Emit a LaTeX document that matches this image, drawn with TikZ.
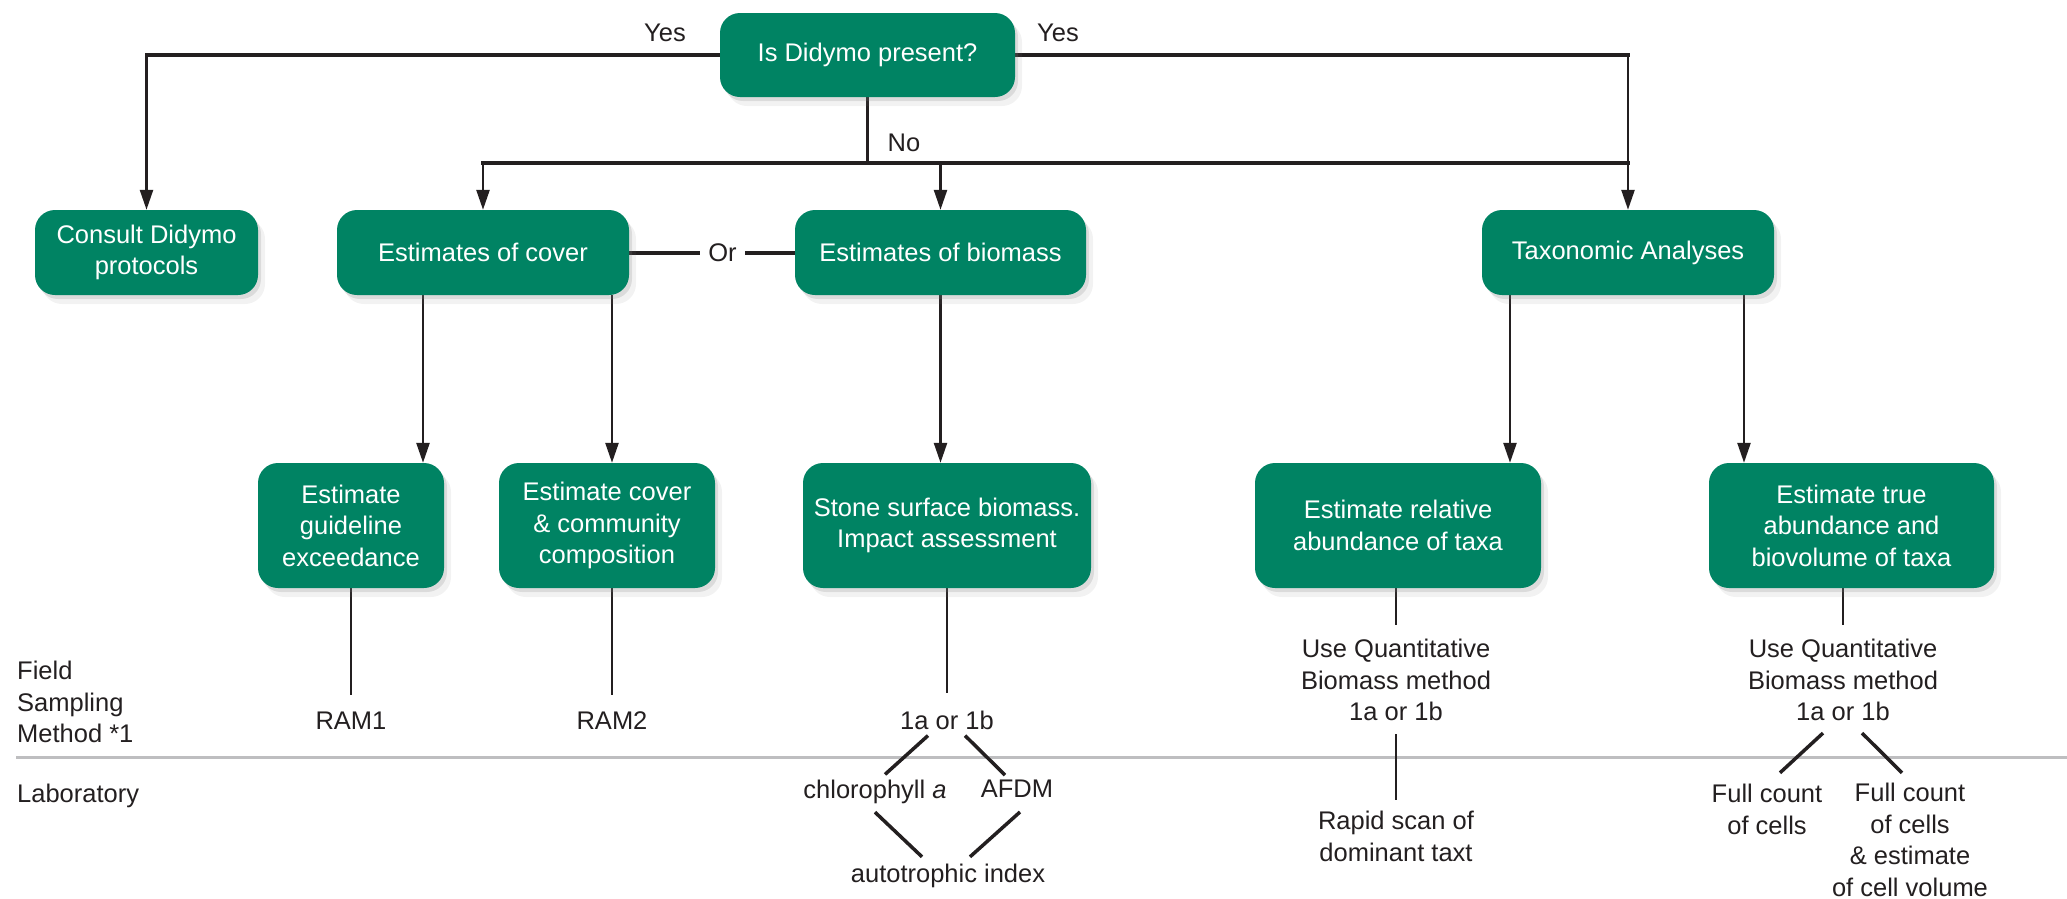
\documentclass[tikz,border=0pt]{standalone}
\usepackage{fontspec}
\setmainfont{Liberation Sans}
\usetikzlibrary{positioning,arrows.meta,shadows,backgrounds}

\definecolor{didymo}{RGB}{0,131,99}
\definecolor{ink}{RGB}{35,31,32}
\definecolor{rulegray}{RGB}{190,190,192}

\begin{document}
\begin{tikzpicture}[x = 1pt, y = -1pt,
  every node/.style = {font=\fontsize{25.5}{31.5}\selectfont, text=ink, inner sep=3pt},
  box/.style = {rectangle, rounded corners=20pt, fill=didymo, text=white, align=center, inner sep=0pt,
    drop shadow={shadow xshift=3pt, shadow yshift=-4pt, opacity=0.2},
    drop shadow={shadow xshift=7pt, shadow yshift=-9pt, opacity=0.1}},
  lbl/.style = {align=center},
  bus/.style = {draw=ink, line width=4pt, line cap=rect},
  arr/.style = {draw=ink, line width=2.5pt, -{Triangle[length=20pt, width=13pt]}},
  tie/.style = {draw=ink, line width=2.5pt},
  slant/.style = {draw=ink, line width=3.5pt},
  divider/.style = {draw=rulegray, line width=3pt}]

\useasboundingbox (0,0) rectangle (2067,898);

\coordinate (c1) at (423,0);
\coordinate (t1) at (1510,0);
\coordinate (t2) at (1744,0);
\coordinate (split) at (867.5,162.5);
\coordinate (r1) at (16,757);
\coordinate (r2) at (2067,757);

\node[box, minimum width=295pt, minimum height=84pt] (q) at (867.5,55) {Is Didymo present?};

\node[box, minimum width=223pt, minimum height=85pt] (consult) at (146.5,252.5) {Consult Didymo\\protocols};
\node[box, minimum width=292pt, minimum height=85pt] (cover) at (483,252.5) {Estimates of cover};
\node[box, minimum width=291pt, minimum height=85pt] (biomass) at (940.5,252.5) {Estimates of biomass};
\node[box, minimum width=292pt, minimum height=85pt] (taxo) at (1628,252.5) {Taxonomic Analyses};

\node[box, minimum width=186pt, minimum height=125pt] (guide) at (351,525.5) {Estimate\\guideline\\exceedance};
\node[box, minimum width=216pt, minimum height=125pt] (covcomm) at (607,525.5) {Estimate cover\\\& community\\composition};
\node[box, minimum width=288pt, minimum height=125pt] (stone) at (947,525.5) {Stone surface biomass.\\Impact assessment};
\node[box, minimum width=286pt, minimum height=125pt] (rel) at (1398,525.5) {Estimate relative\\abundance of taxa};
\node[box, minimum width=285pt, minimum height=125pt] (true) at (1851.5,525.5) {Estimate true\\abundance and\\biovolume of taxa};

\node (yesl) at (665,33) {Yes};
\node (yesr) at (1058,33) {Yes};
\node (no) at (904,142.5) {No};
\node[inner xsep=10pt] (or) at (722.5,252.5) {Or};

\node[anchor=west, align=left] (field) at (14,702) {Field\\Sampling\\Method *1};
\node[anchor=west] (lab) at (14,795.5) {Laboratory};

\node (ram1) at (351,721) {RAM1};
\node (ram2) at (612,721) {RAM2};
\node (ab1) at (947,720) {1a or 1b};
\node[lbl] (uq1) at (1396,680) {Use Quantitative\\Biomass method\\1a or 1b};
\node[lbl] (uq2) at (1843,680) {Use Quantitative\\Biomass method\\1a or 1b};

\node (chl) at (875,791.5) {chlorophyll \textit{a}};
\node (afdm) at (1017,789) {AFDM};
\node (auto) at (948,875.5) {autotrophic index};
\node[lbl] (rapid) at (1396,836.5) {Rapid scan of\\dominant taxt};
\node[lbl] (fc1) at (1767,809.5) {Full count\\of cells};
\node[lbl] (fc2) at (1910,840) {Full count\\of cells\\\& estimate\\of cell volume};

\begin{scope}[on background layer]
\draw[divider] (r1) -- (r2);

\draw[bus] (q.west) -- (q.west -| consult.north);
\draw[arr] (q.west -| consult.north) -- (consult.north);
\draw[bus] (q.east) -- (q.east -| taxo.north);
\draw[arr] (q.east -| taxo.north) -- (taxo.north);

\draw[tie] (q.south) -- (split);
\draw[bus] (split -| cover.north) -- (split -| taxo.north);
\draw[arr] (split -| cover.north) -- (cover.north);
\draw[arr] (split -| biomass.north) -- (biomass.north);

\draw[bus] (cover.east) -- (or.west);
\draw[bus] (or.east) -- (biomass.west);

\draw[arr] (cover.south -| c1) -- (guide.north -| c1);
\draw[arr] (cover.south -| ram2) -- (covcomm.north -| ram2);
\draw[arr] (biomass.south) -- (biomass.south |- stone.north);
\draw[arr] (taxo.south -| t1) -- (rel.north -| t1);
\draw[arr] (taxo.south -| t2) -- (true.north -| t2);

\draw[tie, shorten >=14pt] (guide.south) -- (ram1);
\draw[tie, shorten >=14pt] (covcomm.south -| ram2) -- (ram2);
\draw[tie, shorten >=14pt] (stone.south) -- (ab1);
\draw[tie, shorten >=11pt] (rel.south -| uq1) -- (uq1);
\draw[tie, shorten >=11pt] (true.south -| uq2) -- (uq2);
\draw[tie, shorten <=10pt, shorten >=8pt] (uq1) -- (rapid);

\draw[slant] ([xshift=-19pt, yshift=-3pt]ab1.south) -- ([xshift=10pt, yshift=2pt]chl.north);
\draw[slant] ([xshift=18pt, yshift=-3pt]ab1.south) -- ([xshift=-12pt, yshift=2pt]afdm.north);
\draw[slant] ([yshift=-5.6pt]chl.south) -- ([xshift=-26pt, yshift=3.6pt]auto.north);
\draw[slant] ([xshift=3pt, yshift=-11pt]afdm.south) -- ([xshift=22pt, yshift=3.6pt]auto.north);
\draw[slant] ([xshift=-20pt, yshift=-9pt]uq2.south) -- ([xshift=13pt, yshift=8.4pt]fc1.north);
\draw[slant] ([xshift=19pt, yshift=-9pt]uq2.south) -- ([xshift=-8pt, yshift=7.4pt]fc2.north);
\end{scope}
\end{tikzpicture}
\end{document}
